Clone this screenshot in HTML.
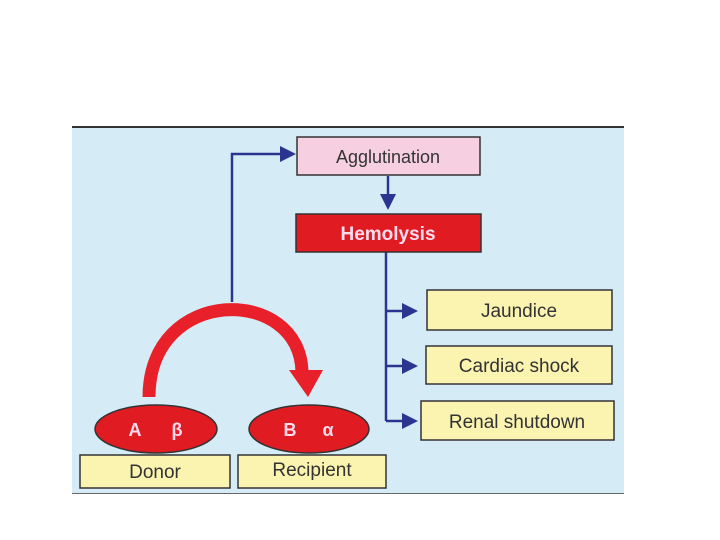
<!DOCTYPE html>
<html><head><style>
body{margin:0;width:720px;height:540px;background:#fff;overflow:hidden}
svg{display:block}
text{font-family:"Liberation Sans",sans-serif}
</style></head><body>
<svg width="720" height="540" viewBox="0 0 720 540">
<rect x="72" y="126" width="552" height="368" fill="#d5ecf7"/>
<line x1="72" y1="127" x2="624" y2="127" stroke="#333" stroke-width="2"/>
<line x1="72" y1="493.5" x2="624" y2="493.5" stroke="#666" stroke-width="1"/>
<g stroke="#2b3590" stroke-width="2.5" fill="none">
<polyline points="232,302 232,154 282,154"/>
<line x1="388" y1="176" x2="388" y2="196"/>
<polyline points="386,252 386,421"/>
<line x1="386" y1="311" x2="404" y2="311"/>
<line x1="386" y1="366" x2="404" y2="366"/>
<line x1="386" y1="421" x2="404" y2="421"/>
</g>
<g fill="#2b3590">
<polygon points="280,146 296,154 280,162"/>
<polygon points="380,194 396,194 388,210"/>
<polygon points="402,303 418,311 402,319"/>
<polygon points="402,358 418,366 402,374"/>
<polygon points="402,413 418,421 402,429"/>
</g>
<path d="M149,397 C149,285 300,285 302,372" stroke="#e8202a" stroke-width="13" fill="none"/>
<polygon points="289,370 323,370 308,397" fill="#e8202a"/>
<rect x="297" y="137" width="183" height="38" fill="#f6cfe0" stroke="#333" stroke-width="1.5"/>
<text x="388" y="163" font-size="18" text-anchor="middle" fill="#333">Agglutination</text>
<rect x="296" y="214" width="185" height="38" fill="#e01b22" stroke="#333" stroke-width="1.5"/>
<text x="388" y="240" font-size="19" font-weight="bold" text-anchor="middle" fill="#fde">Hemolysis</text>
<g fill="#fbf3b0" stroke="#333" stroke-width="1.5">
<rect x="427" y="290" width="185" height="40"/>
<rect x="426" y="346" width="186" height="38"/>
<rect x="421" y="401" width="193" height="39"/>
<rect x="80" y="455" width="150" height="33"/>
<rect x="238" y="455" width="148" height="33"/>
</g>
<g font-size="19" text-anchor="middle" fill="#333">
<text x="519" y="317">Jaundice</text>
<text x="519" y="372">Cardiac shock</text>
<text x="517" y="428">Renal shutdown</text>
<text x="155" y="478">Donor</text>
<text x="312" y="476">Recipient</text>
</g>
<ellipse cx="156" cy="429" rx="61" ry="24" fill="#e01b22" stroke="#333" stroke-width="1.5"/>
<ellipse cx="309" cy="429" rx="60" ry="24" fill="#e01b22" stroke="#333" stroke-width="1.5"/>
<g font-size="18" font-weight="bold" fill="#fde" text-anchor="middle">
<text x="135" y="436">A</text><text x="177" y="436">β</text>
<text x="290" y="436">B</text><text x="328" y="436">α</text>
</g>
</svg>
</body></html>
